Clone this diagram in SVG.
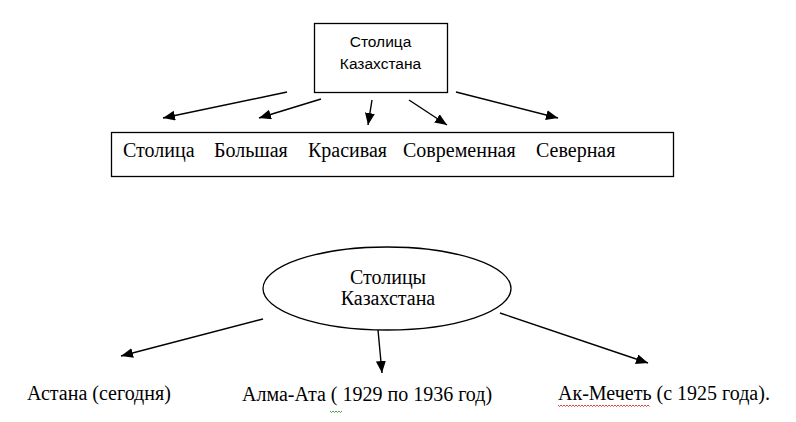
<svg xmlns="http://www.w3.org/2000/svg" width="796" height="422" viewBox="0 0 796 422">
  <style>
    .shape { fill: #ffffff; stroke: #000000; stroke-width: 1.3; }
    .edge { stroke: #000000; stroke-width: 1.4; fill: none; marker-end: url(#arrow); }
    .sans { font-family: "Liberation Sans", Arial, sans-serif; font-size: 15.5px; fill: #000; }
    .serif { font-family: "Liberation Serif", "Times New Roman", "DejaVu Serif", serif; font-size: 20px; fill: #000; }
    .squig { fill: none; stroke-width: 0.9; }
  </style>
  <defs>
    <marker id="arrow" markerUnits="userSpaceOnUse" markerWidth="14" markerHeight="12" refX="12" refY="5" orient="auto">
      <path d="M0,0 L12,5 L0,10 Z" fill="#000000"/>
    </marker>
  </defs>
  <rect width="796" height="422" fill="#ffffff"/>

  <g id="node-capital-box">
    <rect class="shape" x="314.5" y="23.5" width="133" height="69"/>
    <text class="sans" x="380.5" y="47" text-anchor="middle">Столица</text>
    <text class="sans" x="380.5" y="69" text-anchor="middle">Казахстана</text>
  </g>

  <g id="node-attributes" font-family="'Liberation Serif', 'Times New Roman', serif">
    <rect class="shape" x="111.5" y="132.5" width="562" height="44"/>
    <text class="serif" font-family="'Liberation Serif', serif" x="123" y="157">Столица</text>
    <text class="serif" font-family="'Liberation Serif', serif" x="214" y="157">Большая</text>
    <text class="serif" font-family="'Liberation Serif', serif" x="308" y="157">Красивая</text>
    <text class="serif" font-family="'Liberation Serif', serif" x="403" y="157">Современная</text>
    <text class="serif" font-family="'Liberation Serif', serif" x="536" y="157">Северная</text>
  </g>

  <g id="node-capitals-ellipse">
    <ellipse class="shape" cx="387" cy="288.5" rx="124" ry="41.5"/>
    <text class="serif" font-family="'Liberation Serif', serif" x="388" y="284" text-anchor="middle">Столицы</text>
    <text class="serif" font-family="'Liberation Serif', serif" x="388" y="305" text-anchor="middle">Казахстана</text>
  </g>

  <g id="node-astana">
    <text class="serif" font-family="'Liberation Serif', serif" x="27" y="400">Астана (сегодня)</text>
  </g>

  <g id="node-almaata">
    <text class="serif" font-family="'Liberation Serif', serif" x="242" y="401">Алма-Ата ( 1929 по 1936 год)</text>
    <path class="squig" stroke="#3a9a3a" d="M330,411 l1.5,1.5 l1.5,-1.5 l1.5,1.5 l1.5,-1.5 l1.5,1.5 l1.5,-1.5 l1.5,1.5 l1.5,-1.5"/>
  </g>

  <g id="node-akmechet">
    <text class="serif" font-family="'Liberation Serif', serif" x="558" y="400">Ак-Мечеть (с 1925 года).</text>
    <path class="squig" stroke="#e03030" d="M558,405 l1.5,1.5 l1.5,-1.5 l1.5,1.5 l1.5,-1.5 l1.5,1.5 l1.5,-1.5 l1.5,1.5 l1.5,-1.5 l1.5,1.5 l1.5,-1.5 l1.5,1.5 l1.5,-1.5 l1.5,1.5 l1.5,-1.5 l1.5,1.5 l1.5,-1.5 l1.5,1.5 l1.5,-1.5 l1.5,1.5 l1.5,-1.5 l1.5,1.5 l1.5,-1.5 l1.5,1.5 l1.5,-1.5 l1.5,1.5 l1.5,-1.5 l1.5,1.5 l1.5,-1.5 l1.5,1.5 l1.5,-1.5 l1.5,1.5 l1.5,-1.5 l1.5,1.5 l1.5,-1.5 l1.5,1.5 l1.5,-1.5 l1.5,1.5 l1.5,-1.5 l1.5,1.5 l1.5,-1.5 l1.5,1.5 l1.5,-1.5 l1.5,1.5 l1.5,-1.5 l1.5,1.5 l1.5,-1.5 l1.5,1.5 l1.5,-1.5 l1.5,1.5 l1.5,-1.5 l1.5,1.5 l1.5,-1.5 l1.5,1.5 l1.5,-1.5 l1.5,1.5 l1.5,-1.5 l1.5,1.5 l1.5,-1.5 l1.5,1.5 l1.5,-1.5 l1.5,1.5"/>
  </g>

  <g id="connectors">
    <line class="edge" x1="287" y1="92" x2="163" y2="118"/>
    <line class="edge" x1="321" y1="99" x2="259" y2="118"/>
    <line class="edge" x1="372" y1="100" x2="368" y2="125"/>
    <line class="edge" x1="409" y1="100" x2="447" y2="125"/>
    <line class="edge" x1="456" y1="92" x2="558" y2="118"/>
    <line class="edge" x1="263" y1="319" x2="121" y2="356"/>
    <line class="edge" x1="378" y1="330" x2="382" y2="373"/>
    <line class="edge" x1="500" y1="313" x2="648" y2="363"/>
  </g>
</svg>
